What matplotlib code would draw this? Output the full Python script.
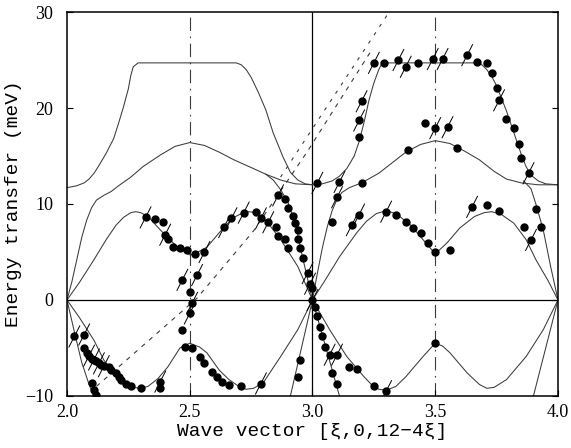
import matplotlib
matplotlib.use("Agg")
import matplotlib.pyplot as plt

# --- calculated dispersion curves (xi, energy in meV) ---
top_a_xi = [2.00, 2.04, 2.07, 2.09, 2.11, 2.13, 2.16, 2.19, 2.21, 2.23, 2.25, 2.26, 2.27, 2.29,
            2.69, 2.71, 2.73, 2.75, 2.78, 2.81, 2.84, 2.88, 2.91, 2.94, 2.97, 3.00]
top_a_e = [11.7, 11.9, 12.2, 12.6, 13.2, 14.0, 15.3, 16.8, 18.4, 20.1, 22.0, 23.4, 24.3, 24.7,
           24.7, 24.5, 24.0, 23.2, 21.6, 19.8, 17.4, 14.9, 13.3, 12.5, 12.1, 12.0]
top_b_xi = [3.00, 3.04, 3.08, 3.11, 3.14, 3.17, 3.19, 3.21, 3.23, 3.25, 3.27, 3.28, 3.30,
            3.67, 3.69, 3.71, 3.73, 3.75, 3.77, 3.79, 3.81, 3.83, 3.85, 3.87, 3.89, 3.92, 3.95, 4.00]
top_b_e = [12.0, 12.1, 12.4, 12.9, 13.7, 15.0, 16.5, 18.5, 20.8, 22.6, 24.0, 24.5, 24.7,
           24.7, 24.5, 24.0, 23.3, 22.3, 21.0, 19.7, 18.2, 16.7, 15.2, 13.9, 13.0, 12.4, 12.1, 12.0]

mid_a_xi = [2.00, 2.02, 2.04, 2.06, 2.08, 2.10, 2.12, 2.15, 2.18, 2.21, 2.26, 2.31, 2.38, 2.44,
            2.50, 2.56, 2.62, 2.68, 2.75, 2.81, 2.87, 2.93, 3.00]
mid_a_e = [0.0, 1.9, 4.2, 6.5, 8.3, 9.6, 10.4, 10.9, 11.3, 11.9, 12.8, 13.9, 15.1, 16.0,
           16.4, 16.1, 15.4, 14.6, 13.8, 13.1, 12.5, 12.1, 12.0]
mid_b_xi = [3.00, 3.02, 3.04, 3.06, 3.08, 3.10, 3.12, 3.15, 3.20, 3.27, 3.33, 3.38, 3.44, 3.50,
            3.56, 3.62, 3.68, 3.74, 3.79, 3.85, 3.92, 4.00]
mid_b_e = [0.0, 2.8, 5.4, 7.6, 9.3, 10.5, 11.2, 11.7, 12.2, 13.2, 14.4, 15.4, 16.2, 16.6,
           16.3, 15.5, 14.6, 13.4, 12.6, 12.2, 12.0, 12.0]

steep_up_3_xi = [3.00, 2.98, 2.96, 2.93, 2.90, 2.87, 2.84, 2.81]
steep_up_3_e = [0.0, 2.2, 4.4, 8.0, 10.2, 11.5, 12.5, 13.1]
steep_up_4_xi = [4.00, 3.97, 3.94, 3.91, 3.89, 3.86]
steep_up_4_e = [0.0, 3.5, 7.3, 10.0, 11.6, 12.4]

low_a_xi = [2.00, 2.05, 2.11, 2.16, 2.20, 2.23, 2.26, 2.28, 2.30, 2.33, 2.38, 2.45, 2.50,
            2.52, 2.57, 2.64, 2.68, 2.71, 2.74, 2.77, 2.81, 2.87, 2.94, 3.00]
low_a_e = [0.0, 1.8, 4.2, 6.3, 7.8, 8.6, 9.1, 9.2, 9.1, 8.7, 7.3, 5.5, 4.7,
           4.8, 5.5, 7.6, 8.6, 9.0, 9.2, 9.1, 8.3, 6.3, 3.5, 0.0]
low_b_xi = [3.00, 3.05, 3.11, 3.18, 3.22, 3.26, 3.30, 3.34, 3.40, 3.45, 3.50,
            3.55, 3.60, 3.66, 3.70, 3.73, 3.77, 3.82, 3.87, 3.91, 3.96, 4.00]
low_b_e = [0.0, 2.0, 4.5, 7.0, 8.2, 9.0, 9.3, 9.0, 7.8, 6.3, 4.8,
           6.0, 7.5, 8.7, 9.1, 9.2, 8.9, 8.0, 6.3, 4.2, 2.0, 0.0]

neg_a_xi = [2.00, 2.05, 2.11, 2.15, 2.20, 2.24, 2.27, 2.30, 2.33, 2.37, 2.41, 2.46, 2.50,
            2.54, 2.57, 2.62, 2.66, 2.70, 2.73, 2.76, 2.80, 2.87, 2.94, 3.00]
neg_a_e = [0.0, -1.8, -4.2, -6.25, -8.0, -8.8, -9.1, -9.2, -9.0, -8.2, -7.0, -5.0, -4.5,
           -4.9, -5.5, -7.3, -8.3, -9.0, -9.3, -9.2, -8.6, -5.9, -3.1, 0.0]
neg_b_xi = [3.00, 3.07, 3.14, 3.21, 3.24, 3.27, 3.30, 3.34, 3.38, 3.45, 3.50, 3.53, 3.56, 3.63,
            3.68, 3.71, 3.74, 3.79, 3.87, 3.94, 4.00]
neg_b_e = [0.0, -3.1, -5.9, -8.0, -8.8, -9.3, -9.4, -9.0, -8.0, -5.9, -4.5, -4.8, -5.5, -7.6,
           -8.8, -9.2, -9.1, -8.3, -5.9, -3.1, 0.0]

steep_dn_xi = [[2.00, 2.03, 2.06, 2.09, 2.11], [3.00, 2.91], [3.00, 3.11], [4.00, 3.90]]
steep_dn_e = [[0.0, -3.3, -6.5, -8.8, -10.0], [0.0, -10.0], [0.0, -10.0], [0.0, -10.0]]

# straight reference lines (dashed)
dash_a_xi = [2.12, 2.53, 2.76, 2.98, 3.24]
dash_a_e = [-9.0, 0.2, 7.2, 15.5, 26.0]
dash_b_xi = [2.87, 3.31]
dash_b_e = [12.8, 29.9]

# --- measured points ---
pt_xi = [2.36, 2.39, 2.41, 2.43, 2.46, 2.49, 2.52, 2.50,
         2.77, 2.85, 2.86, 2.89, 2.90, 2.89, 2.90, 2.92, 2.93, 2.94, 2.94, 2.95, 2.96, 3.00,
         3.20, 3.08, 3.19, 3.29, 3.43, 3.67, 3.71, 3.73, 3.75, 3.79, 3.82, 3.84, 3.85,
         3.39, 3.46, 3.59, 3.34, 3.38, 3.41, 3.44, 3.47, 3.50, 3.56,
         3.71, 3.76, 3.91, 3.86, 3.93,
         2.07, 2.08, 2.10, 2.12, 2.14, 2.17, 2.18, 2.20, 2.21, 2.22, 2.24, 2.26, 2.30,
         2.10, 2.11, 2.12, 2.38,
         2.47, 2.48, 2.51, 2.54, 2.56, 2.59, 2.61, 2.63, 2.66, 2.71,
         2.95, 2.94, 3.01, 3.02, 3.03, 3.04, 3.05, 3.15, 3.18, 3.25, 3.08, 3.10, 3.50]
pt_e = [8.4, 8.1, 6.4, 5.5, 5.4, 5.2, 4.8, 0.8,
        9.2, 7.6, 6.7, 6.4, 5.4, 10.5, 9.6, 8.7, 8.0, 7.3, 6.4, 5.4, 4.4, 1.2,
        12.2, 8.1, 17.0, 24.7, 24.7, 24.8, 24.7, 23.6, 22.1, 18.9, 17.9, 16.3, 14.8,
        15.6, 18.4, 15.8, 8.9, 8.1, 7.5, 7.0, 5.9, 5.0, 5.2,
        9.9, 9.3, 9.5, 7.6, 7.6,
        -5.0, -5.5, -6.1, -6.4, -6.8, -7.0, -7.3, -7.6, -8.0, -8.3, -8.7, -9.0, -9.2,
        -8.6, -9.4, -9.9, -9.2,
        -3.1, -4.9, -5.0, -5.9, -6.6, -7.5, -8.0, -8.5, -8.9, -9.0,
        -6.3, -8.0, -0.7, -1.7, -2.8, -3.8, -4.9, -7.0, -7.2, -9.0, -7.6, -8.8, -4.5]

# points drawn with a slanted resolution bar
bar_xi = [2.32, 2.40, 2.56, 2.53, 2.47, 2.51, 2.50,
          2.64, 2.67, 2.72, 2.79, 2.82, 2.86, 2.98, 2.99, 3.00,
          3.02, 3.11, 3.10, 3.19, 3.16, 3.30,
          3.20, 3.19, 3.25, 3.35, 3.38, 3.49, 3.53, 3.63, 3.76, 3.88,
          3.50, 3.55, 3.65, 3.89,
          2.03, 2.07, 2.09, 2.11, 2.13, 2.15, 2.79, 2.38, 3.07, 3.10, 3.30]
bar_e = [8.6, 6.8, 5.0, 2.6, 2.1, -0.3, -1.4,
         7.6, 8.5, 9.1, 8.5, 8.1, 10.9, 2.8, 1.7, 0.0,
         12.2, 12.3, 10.7, 8.9, 7.8, 9.2,
         20.7, 18.7, 24.7, 25.0, 24.3, 25.1, 25.1, 25.5, 20.8, 13.2,
         17.9, 18.0, 9.7, 6.25,
         -3.8, -3.6, -5.8, -6.2, -6.6, -6.9, -8.7, -8.5, -5.7, -5.7, -9.5]

LINE_C = "#3a3a3a"
MONO = ["Liberation Mono", "DejaVu Sans"]
TICKF = ["Liberation Serif", "DejaVu Serif"]

fig = plt.figure(figsize=(5.71, 4.48), dpi=100)
ax = fig.add_axes([0.1173, 0.1161, 0.8599, 0.8571])

curves = [(top_a_xi, top_a_e), (top_b_xi, top_b_e), (mid_a_xi, mid_a_e), (mid_b_xi, mid_b_e),
          (steep_up_3_xi, steep_up_3_e), (steep_up_4_xi, steep_up_4_e),
          (low_a_xi, low_a_e), (low_b_xi, low_b_e), (neg_a_xi, neg_a_e), (neg_b_xi, neg_b_e)]
curves += list(zip(steep_dn_xi, steep_dn_e))
for xs, es in curves:
    ax.plot(xs, es, color=LINE_C, lw=0.75, zorder=2, solid_joinstyle="round")

ax.plot(dash_a_xi, dash_a_e, color=LINE_C, lw=0.8, ls=(0, (4, 5)), zorder=2)
ax.plot(dash_b_xi, dash_b_e, color=LINE_C, lw=0.8, ls=(0, (3, 6)), zorder=2)

# guides: zero line, zone boundaries
ax.axhline(0, color="black", lw=0.9, zorder=1)
ax.axvline(3.0, color="black", lw=0.9, zorder=1)
for xv in (2.5, 3.5):
    ax.axvline(xv, color=LINE_C, lw=0.8, ls=(0, (12, 5, 1.5, 5)), zorder=1)

# resolution bars
for x, e in zip(bar_xi, bar_e):
    ax.plot([x - 0.022, x + 0.022], [e - 1.1, e + 1.1], color="black", lw=0.7, zorder=3)
ax.plot(bar_xi, bar_e, "o", color="black", ms=5, zorder=4)
ax.plot(pt_xi, pt_e, "o", color="black", ms=5, zorder=4)

ax.set_xlim(2.0, 4.0)
ax.set_ylim(-10, 30)
ax.set_xticks([2.0, 2.5, 3.0, 3.5, 4.0])
ax.set_xticklabels(["2.0", "2.5", "3.0", "3.5", "4.0"])
ax.set_yticks([-10, 0, 10, 20, 30])
ax.set_yticklabels(["\u221210", "0", "10", "20", "30"])
ax.tick_params(direction="in", length=4, width=0.8, right=True, top=False, labelsize=13)
ax.tick_params(axis="x", pad=6)
ax.tick_params(axis="y", pad=10)
for lab in ax.get_xticklabels() + ax.get_yticklabels():
    lab.set_family(TICKF)
for sp in ax.spines.values():
    sp.set_linewidth(1.1)

ax.set_xlabel("Wave vector [\u03be,0,12\u22124\u03be]", family=MONO, fontsize=14, labelpad=1)
ax.set_ylabel("Energy transfer (meV)", family=MONO, fontsize=14, labelpad=2)

fig.savefig("out.png", dpi=100)
